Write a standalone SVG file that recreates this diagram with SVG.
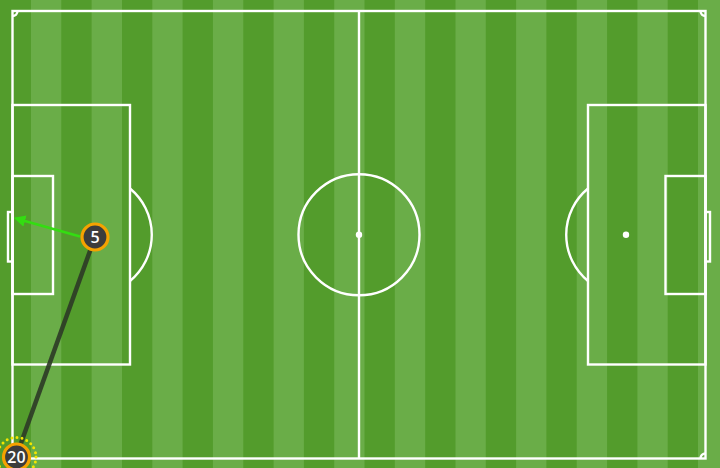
<svg xmlns="http://www.w3.org/2000/svg" width="720" height="468" viewBox="0 0 720 468">
<defs>
<style>
.ln{fill:none;stroke:#ffffff;stroke-width:2.4}
.dk{fill:#539c2c}
.lt{fill:#6aad48}
.ring{fill:#3c3c3c;stroke:#f5a200;stroke-width:3.2}
.lbl{font-family:"Open Sans","DejaVu Sans",sans-serif;font-size:16px;font-weight:600;fill:#ffffff;text-anchor:middle}
</style>
<marker id="ah" viewBox="0 0 10 10" refX="8" refY="5" markerWidth="4.5" markerHeight="4.5" orient="auto" markerUnits="strokeWidth">
<path d="M0,0 L10,5 L0,10 z" fill="#33dd11"/>
</marker>
</defs>
<g id="grass">
<rect x="0" y="0" width="720" height="468" class="lt"/>
<rect x="0" y="0" width="31" height="468" class="dk"/>
<rect x="61.3" y="0" width="30.3" height="468" class="dk"/>
<rect x="122" y="0" width="30.3" height="468" class="dk"/>
<rect x="182.6" y="0" width="30.3" height="468" class="dk"/>
<rect x="243.3" y="0" width="30.3" height="468" class="dk"/>
<rect x="303.9" y="0" width="30.3" height="468" class="dk"/>
<rect x="364.5" y="0" width="30.3" height="468" class="dk"/>
<rect x="425.2" y="0" width="30.3" height="468" class="dk"/>
<rect x="485.8" y="0" width="30.3" height="468" class="dk"/>
<rect x="546.4" y="0" width="30.3" height="468" class="dk"/>
<rect x="607.1" y="0" width="30.3" height="468" class="dk"/>
<rect x="667.7" y="0" width="30.3" height="468" class="dk"/>
</g>
<g id="markings">
<rect x="12.5" y="11" width="693" height="447.5" class="ln"/>
<line x1="359" y1="11" x2="359" y2="458.5" class="ln"/>
<circle cx="359" cy="234.75" r="60.5" class="ln"/>
<circle cx="359" cy="234.75" r="3.2" fill="#ffffff"/>
<rect x="12.5" y="105" width="117.5" height="259.5" class="ln"/>
<rect x="12.5" y="176" width="40.5" height="118" class="ln"/>
<rect x="8" y="212" width="4.5" height="49.5" class="ln"/>
<path d="M130,188.5 A60,60 0 0 1 130,281" class="ln"/>
<rect x="588" y="105" width="117.5" height="259.5" class="ln"/>
<rect x="665.5" y="176" width="40" height="118" class="ln"/>
<rect x="705.5" y="212" width="4.5" height="49.5" class="ln"/>
<path d="M588,188.5 A60,60 0 0 0 588,281" class="ln"/>
<circle cx="626" cy="234.75" r="3.2" fill="#ffffff"/>
<path d="M12.5,16 A5,5 0 0 0 17.5,11" class="ln"/>
<path d="M700.5,11 A5,5 0 0 0 705.5,16" class="ln"/>
<path d="M12.5,453.5 A5,5 0 0 1 17.5,458.5" class="ln"/>
<path d="M700.5,458.5 A5,5 0 0 1 705.5,453.5" class="ln"/>
</g>
<g id="connectors">
<line x1="95" y1="237" x2="16" y2="457" stroke="#2c3a26" stroke-opacity="0.9" stroke-width="4.5"/>
<line x1="80" y1="236.5" x2="16" y2="218.5" stroke="#33dd11" stroke-width="2.6" marker-end="url(#ah)"/>
</g>
<g id="player-20">
<circle cx="16.5" cy="457" r="19.5" fill="none" stroke="#f2e600" stroke-width="3" stroke-dasharray="0 5.1" stroke-linecap="round"/>
<circle cx="16.5" cy="457" r="13" class="ring"/>
<text x="16.5" y="462.5" class="lbl">20</text>
</g>
<g id="player-5">
<circle cx="95" cy="237" r="13" class="ring"/>
<text x="95" y="242.7" class="lbl">5</text>
</g>
</svg>
